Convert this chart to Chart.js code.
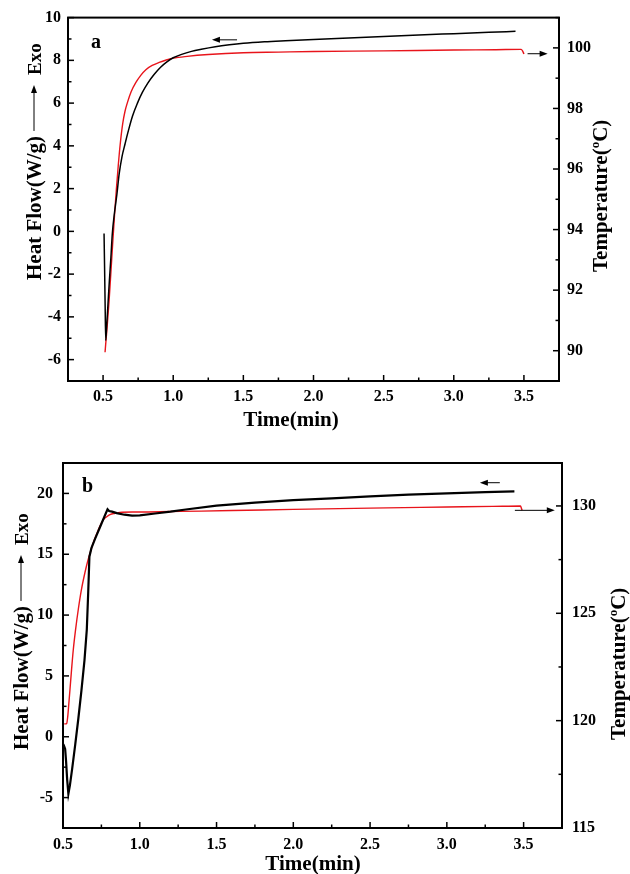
<!DOCTYPE html>
<html>
<head>
<meta charset="utf-8">
<script src="https://cdn.jsdelivr.net/npm/chart.js@4.4.1/dist/chart.umd.min.js"></script>
<style>
  body { margin: 0; background: #fff; }
  canvas { display: block; }
</style>
</head>
<body>
<canvas id="chart-a" width="630" height="437"></canvas>
<canvas id="chart-b" width="630" height="437"></canvas>
<script>
// panel a: heat flow (black, left axis) and temperature (red, right axis)
const timeHeatA = [0.507, 0.511, 0.515, 0.519, 0.525, 0.535, 0.545, 0.556, 0.566, 0.58, 0.598, 0.615, 0.635, 0.657, 0.68, 0.71, 0.745, 0.78, 0.82, 0.865, 0.91, 0.955, 1.0, 1.06, 1.13, 1.2, 1.3, 1.4, 1.5, 1.65, 1.8, 2.0, 2.25, 2.5, 2.75, 3.0, 3.25, 3.44];
const heatA = [-0.1, -1.8, -3.6, -5.1, -4.5, -3.4, -2.3, -1.2, -0.1, 0.8, 1.7, 2.7, 3.5, 4.1, 4.7, 5.4, 6.0, 6.5, 6.95, 7.35, 7.68, 7.93, 8.12, 8.28, 8.42, 8.52, 8.64, 8.73, 8.8, 8.87, 8.92, 8.98, 9.05, 9.12, 9.19, 9.25, 9.31, 9.36];
const timeTempA = [0.514, 0.522, 0.53, 0.543, 0.556, 0.568, 0.582, 0.595, 0.608, 0.621, 0.64, 0.656, 0.674, 0.7, 0.733, 0.77, 0.805, 0.85, 0.9, 0.95, 1.0, 1.1, 1.25, 1.5, 1.75, 2.0, 2.5, 3.0, 3.3, 3.48, 3.49, 3.5];
const tempA = [89.95, 90.4, 90.85, 91.65, 92.6, 93.5, 94.5, 95.35, 96.1, 96.77, 97.5, 97.9, 98.2, 98.55, 98.85, 99.1, 99.28, 99.42, 99.52, 99.6, 99.66, 99.72, 99.78, 99.84, 99.86, 99.88, 99.9, 99.93, 99.94, 99.95, 99.9, 99.8];
const timeTicksA = [0.5, 1.0, 1.5, 2.0, 2.5, 3.0, 3.5];
const heatTicksA = [-6, -4, -2, 0, 2, 4, 6, 8, 10];
const tempTicksA = [90, 92, 94, 96, 98, 100];

// panel b
const timeHeatB = [0.502, 0.508, 0.514, 0.52, 0.527, 0.535, 0.545, 0.56, 0.58, 0.6, 0.62, 0.64, 0.655, 0.664, 0.672, 0.685, 0.71, 0.74, 0.77, 0.79, 0.8, 0.82, 0.85, 0.9, 0.95, 1.0, 1.1, 1.2, 1.3, 1.5, 1.75, 2.0, 2.25, 2.5, 2.75, 3.0, 3.25, 3.44];
const heatB = [-0.6, -0.8, -1.0, -2.0, -3.5, -4.7, -4.0, -2.6, -0.6, 1.5, 3.8, 6.3, 8.8, 11.8, 14.8, 15.5, 16.3, 17.2, 18.1, 18.7, 18.55, 18.5, 18.38, 18.25, 18.18, 18.2, 18.35, 18.5, 18.68, 19.0, 19.25, 19.45, 19.6, 19.75, 19.9, 20.0, 20.1, 20.16];
const timeTempB = [0.508, 0.516, 0.524, 0.531, 0.538, 0.546, 0.556, 0.567, 0.583, 0.6, 0.62, 0.643, 0.66, 0.676, 0.698, 0.72, 0.74, 0.762, 0.785, 0.806, 0.84, 0.87, 0.95, 1.0, 1.2, 1.4, 1.7, 2.0, 2.5, 3.0, 3.3, 3.48, 3.485, 3.49];
const tempB = [119.85, 119.85, 119.87, 120.2, 120.8, 121.5, 122.4, 123.3, 124.3, 125.2, 126.1, 126.9, 127.4, 127.8, 128.3, 128.7, 129.05, 129.35, 129.5, 129.6, 129.66, 129.7, 129.72, 129.72, 129.74, 129.76, 129.8, 129.84, 129.9, 129.95, 129.98, 130.0, 129.9, 129.8];
const timeTicksB = [0.5, 1.0, 1.5, 2.0, 2.5, 3.0, 3.5];
const heatTicksB = [-5, 0, 5, 10, 15, 20];
const tempTicksB = [115, 120, 125, 130];

const FONT = "'Liberation Serif', 'Times New Roman', serif";

function pairs(xs, ys) {
  return xs.map((x, i) => ({ x: x, y: ys[i] }));
}

function fixTicks(values) {
  return function (scale) {
    scale.ticks = values.map(v => ({ value: v }));
  };
}

function arrow(ctx, x1, y1, x2, y2) {
  const ang = Math.atan2(y2 - y1, x2 - x1);
  ctx.beginPath();
  ctx.moveTo(x1, y1);
  ctx.lineTo(x2 - 6 * Math.cos(ang), y2 - 6 * Math.sin(ang));
  ctx.stroke();
  ctx.save();
  ctx.translate(x2, y2);
  ctx.rotate(ang);
  ctx.beginPath();
  ctx.moveTo(0, 0);
  ctx.lineTo(-8, -3);
  ctx.lineTo(-8, 3);
  ctx.closePath();
  ctx.fill();
  ctx.restore();
}

// box round the plot, inward ticks, titles and the small arrows
const decorations = {
  id: 'decorations',
  afterDatasetsDraw(chart, args, opts) {
    const ctx = chart.ctx;
    const area = chart.chartArea;
    const sx = chart.scales.x, sy = chart.scales.y;
    ctx.save();
    ctx.strokeStyle = '#000';
    ctx.fillStyle = '#000';

    ctx.lineWidth = 1.5;
    Object.keys(opts.minor).forEach(id => {
      const s = chart.scales[id];
      const step = opts.minor[id];
      const majors = s.ticks.map(t => t.value);
      for (let k = Math.ceil(s.min / step - 1e-9); k * step <= s.max + 1e-9; k++) {
        const v = k * step;
        const len = majors.some(m => Math.abs(m - v) < 1e-6) ? 6 : 3.5;
        const p = s.getPixelForValue(v);
        ctx.beginPath();
        if (s.axis === 'x') {
          ctx.moveTo(p, area.bottom); ctx.lineTo(p, area.bottom - len);
        } else if (s.position === 'left') {
          ctx.moveTo(area.left, p); ctx.lineTo(area.left + len, p);
        } else {
          ctx.moveTo(area.right, p); ctx.lineTo(area.right - len, p);
        }
        ctx.stroke();
      }
    });

    ctx.lineWidth = 2;
    ctx.strokeRect(area.left, area.top, area.right - area.left, area.bottom - area.top);

    // panel letter
    ctx.font = 'bold 20px ' + FONT;
    ctx.textAlign = 'center';
    ctx.textBaseline = 'alphabetic';
    ctx.fillText(opts.letter.text, sx.getPixelForValue(opts.letter.x), sy.getPixelForValue(opts.letter.y));

    // arrows telling which axis each curve belongs to
    ctx.lineWidth = 1;
    opts.arrows.forEach(a => {
      arrow(ctx, sx.getPixelForValue(a[0]), sy.getPixelForValue(a[2]),
                 sx.getPixelForValue(a[1]), sy.getPixelForValue(a[2]));
    });

    // x title
    ctx.font = 'bold 21px ' + FONT;
    ctx.fillText('Time(min)', opts.timeTitle[0], opts.timeTitle[1]);

    // left title: Heat Flow(W/g) ---> Exo
    ctx.save();
    ctx.translate(opts.heatTitle[0], opts.heatTitle[1]);
    ctx.rotate(-Math.PI / 2);
    ctx.textAlign = 'left';
    ctx.font = 'bold 21px ' + FONT;
    ctx.fillText('Heat Flow(W/g)', 0, 0);
    let pos = ctx.measureText('Heat Flow(W/g)').width + 5;
    arrow(ctx, pos, -7, pos + 46, -7);
    pos += 56;
    ctx.font = 'bold 19px ' + FONT;
    ctx.fillText('Exo', pos, 0);
    ctx.restore();

    // right title with superscript o
    ctx.save();
    ctx.translate(opts.tempTitle[0], opts.tempTitle[1]);
    ctx.rotate(-Math.PI / 2);
    ctx.textAlign = 'left';
    ctx.font = 'bold 21px ' + FONT;
    ctx.fillText('Temperature(', 0, 0);
    let w = ctx.measureText('Temperature(').width;
    ctx.font = 'bold 13px ' + FONT;
    ctx.fillText('o', w, -8);
    w += ctx.measureText('o').width;
    ctx.font = 'bold 21px ' + FONT;
    ctx.fillText('C)', w, 0);
    ctx.restore();

    ctx.restore();
  }
};

function axisFont() {
  return { family: FONT, size: 16, weight: 'bold' };
}

function makePanel(canvasId, p) {
  return new Chart(document.getElementById(canvasId), {
    type: 'line',
    data: {
      datasets: [
        {
          label: 'Heat Flow',
          data: pairs(p.timeHeat, p.heat),
          yAxisID: 'y',
          borderColor: '#000000',
          borderWidth: p.heatWidth,
          pointRadius: 0,
          cubicInterpolationMode: p.heatMode,
          tension: 0
        },
        {
          label: 'Temperature',
          data: pairs(p.timeTemp, p.temp),
          yAxisID: 'y1',
          borderColor: '#e8141b',
          borderWidth: 1.4,
          pointRadius: 0,
          cubicInterpolationMode: 'monotone'
        }
      ]
    },
    options: {
      responsive: false,
      animation: false,
      layout: {
        padding: { top: p.top, left: 0, right: 0, bottom: 0 }
      },
      plugins: {
        legend: { display: false },
        tooltip: { enabled: false },
        decorations: p.notes
      },
      scales: {
        x: {
          type: 'linear',
          min: p.xMin,
          max: 3.75,
          afterBuildTicks: fixTicks(p.timeTicks),
          afterFit: s => { s.height = p.xHeight; },
          grid: { display: false, drawTicks: false },
          border: { display: false },
          ticks: {
            color: '#000',
            font: axisFont(),
            padding: p.xPad,
            maxRotation: 0,
            callback: v => v.toFixed(1)
          }
        },
        y: {
          position: 'left',
          min: p.yMin,
          max: p.yMax,
          afterBuildTicks: fixTicks(p.heatTicks),
          afterFit: s => { s.width = p.leftWidth; },
          grid: { display: false, drawTicks: false },
          border: { display: false },
          ticks: { color: '#000', font: axisFont(), padding: p.leftPad }
        },
        y1: {
          position: 'right',
          min: p.y1Min,
          max: p.y1Max,
          afterBuildTicks: fixTicks(p.tempTicks),
          afterFit: s => { s.width = p.rightWidth; },
          grid: { display: false, drawTicks: false },
          border: { display: false },
          ticks: { color: '#000', font: axisFont(), padding: p.rightPad }
        }
      }
    },
    plugins: [decorations]
  });
}

makePanel('chart-a', {
  timeHeat: timeHeatA, heat: heatA, timeTemp: timeTempA, temp: tempA,
  timeTicks: timeTicksA, heatTicks: heatTicksA, tempTicks: tempTicksA,
  heatWidth: 1.5, heatMode: 'monotone',
  xMin: 0.25, yMin: -7, yMax: 10, y1Min: 89, y1Max: 101,
  top: 16, xHeight: 56, leftWidth: 68, rightWidth: 71,
  xPad: 6, leftPad: 7, rightPad: 8,
  notes: {
    minor: { x: 0.25, y: 1, y1: 1 },
    letter: { text: 'a', x: 0.45, y: 8.56 },
    arrows: [[1.455, 1.276, 8.96], [3.526, 3.669, 8.31]],
    timeTitle: [291, 426],
    heatTitle: [41, 280],
    tempTitle: [607, 272]
  }
});

makePanel('chart-b', {
  timeHeat: timeHeatB, heat: heatB, timeTemp: timeTempB, temp: tempB,
  timeTicks: timeTicksB, heatTicks: heatTicksB, tempTicks: tempTicksB,
  heatWidth: 2.2, heatMode: 'default',
  xMin: 0.5, yMin: -7.5, yMax: 22.5, y1Min: 115, y1Max: 132,
  top: 26, xHeight: 46, leftWidth: 63, rightWidth: 68,
  xPad: 7, leftPad: 10, rightPad: 10,
  notes: {
    minor: { x: 0.25, y: 2.5, y1: 2.5 },
    letter: { text: 'b', x: 0.66, y: 20.12 },
    arrows: [[3.345, 3.215, 20.88], [3.443, 3.703, 18.61]],
    timeTitle: [313, 433],
    heatTitle: [28, 313],
    tempTitle: [625, 303]
  }
});
</script>
</body>
</html>
